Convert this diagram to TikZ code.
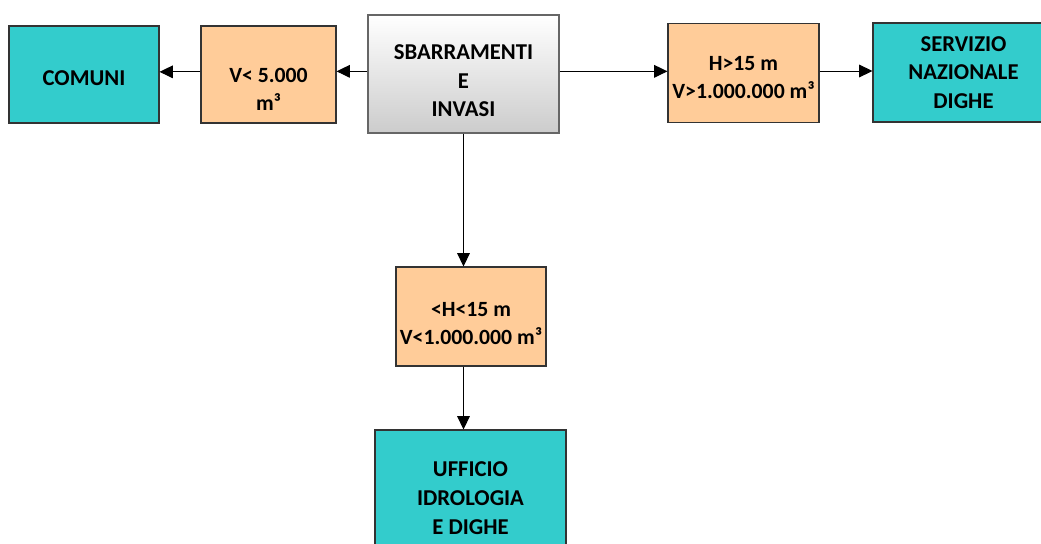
\documentclass[tikz,border=0pt]{standalone}
\usepackage{fontspec}
\setmainfont{Carlito}
\usetikzlibrary{arrows.meta}
\definecolor{entecol}{HTML}{33CCCC}
\definecolor{sogliacol}{HTML}{FFCC99}
\newcommand{\giu}[1]{\rule{0pt}{#1}}
\tikzset{x=0.75pt,y=-0.75pt,
    every node/.style={align=center,font=\bfseries\fontsize{17}{21.5}\selectfont,inner sep=0pt},
    ente/.style={draw=black!80,fill=entecol,line width=0.8pt},
    soglia/.style={draw=black!80,fill=sogliacol,line width=0.8pt,font=\bfseries\fontsize{16.3}{21}\selectfont},
    radice/.style={draw=black!60,line width=0.8pt,top color=white,bottom color=black!20},
    freccia/.style={-{Triangle[length=10pt,width=9.5pt]},line width=0.75pt},
    }
\begin{document}
\begin{tikzpicture}
\useasboundingbox (0,0) rectangle (1041,543);
\node[radice,minimum width=143.25pt,minimum height=88.5pt] (invasi) at (463.5,74) {\giu{21.5pt}SBARRAMENTI\\E\\INVASI};
\node[soglia,minimum width=101.25pt,minimum height=72.75pt] (piccoli) at (268.5,74.5) {\giu{32.8pt}V< 5.000\\m³};
\node[ente,minimum width=112.5pt,minimum height=72.75pt] (comuni) at (84,74.5) {\giu{16.3pt}COMUNI};
\node[soglia,minimum width=113.25pt,minimum height=74.25pt] (grandi) at (743.5,73) {\giu{17.8pt}H>15 m\\V>1.000.000 m³};
\node[ente,minimum width=135.75pt,minimum height=74.25pt] (snd) at (963.5,72.5) {SERVIZIO\\NAZIONALE\\DIGHE};
\node[soglia,minimum width=112.5pt,minimum height=74.25pt] (medi) at (471,316.5) {\giu{20.8pt}<H<15 m\\V<1.000.000 m³};
\node[ente,minimum width=143.25pt,minimum height=102pt] (ufficio) at (470.5,498) {UFFICIO\\IDROLOGIA\\E DIGHE};
% frecce
\draw[freccia] ([yshift=2pt]invasi.west) -- ([yshift=2pt]invasi.west -| piccoli.east);
\draw[freccia] ([yshift=2pt]piccoli.west) -- ([yshift=2pt]piccoli.west -| comuni.east);
\draw[freccia] ([yshift=2pt]invasi.east) -- ([yshift=2pt]invasi.east -| grandi.west);
\draw[freccia] ([yshift=1.5pt]grandi.east) -- ([yshift=1.5pt]grandi.east -| snd.west);
\draw[freccia] (invasi.south) -- (invasi.south |- medi.north);
\draw[freccia] (invasi.south |- medi.south) -- (invasi.south |- ufficio.north);
\end{tikzpicture}
\end{document}
